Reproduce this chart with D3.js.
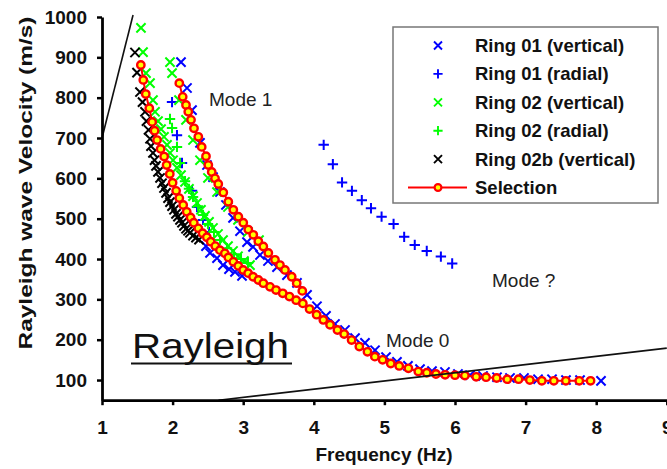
<!DOCTYPE html>
<html>
<head>
<meta charset="utf-8">
<script src="https://cdn.jsdelivr.net/npm/d3@7"></script>
<style>
  html, body { margin: 0; padding: 0; background: #fff; }
  svg { display: block; }
  text { font-family: "Liberation Sans", Arial, Helvetica, sans-serif; }
</style>
</head>
<body>
<svg id="chart" width="667" height="469"></svg>
<script>
// Dispersion picks: [frequency (Hz), phase velocity (m/s)]
const ring01Vertical = [
  [2.119,888],[2.204,824],[2.275,769],[2.388,688],[2.487,633],[2.572,603],[2.671,566],[2.756,534],
  [2.856,502],[2.955,469],[3.054,442],[3.139,430],[3.238,410],[3.351,395],[3.479,380],[3.620,360],
  [3.762,341],[3.904,311],[4.045,283],[4.173,259],[4.300,239],[4.442,224],[4.584,204],[4.725,192],
  [4.867,174],[5.023,157],[5.178,145],[5.334,135],[5.504,127],[5.674,122],[5.858,120],[6.042,115],
  [6.212,112],[6.397,110],[6.595,107],[6.779,105],[6.977,105],[7.176,102],[7.374,102],[7.572,100],
  [7.771,100],[8.068,98],
  [2.473,432],[2.530,415],[2.629,402],[2.714,385],[2.799,375],[2.884,368],[2.983,358]
];
const ring01Radial = [
  [1.992,789],[2.062,707],[2.133,638],[2.275,569],[2.346,529],[2.431,497],[2.516,467],
  [4.14,683],[4.27,635],[4.40,590],[4.54,569],[4.68,546],[4.81,526],[4.96,505],[5.13,487],
  [5.28,455],[5.43,435],[5.60,420],[5.80,406],[5.96,389]
];
const ring02Vertical = [
  [1.552,973],[1.581,913],[1.623,861],[1.680,836],[1.722,794],[1.751,765],[1.793,742],[1.836,722],
  [1.878,703],[1.921,683],[1.963,663],[2.006,645],[2.062,626],[2.119,608],[2.176,591],[2.232,574],
  [2.289,556],[2.346,539],[2.402,522],[2.459,507],[2.516,492],[2.572,477],[2.643,462],[2.714,447],
  [2.785,432],[2.856,420],[2.926,407],[3.011,395],[3.096,385],
  [1.963,888],[1.992,861],[2.091,794],[2.190,745],[2.289,695],[2.388,645],[2.501,601],[2.629,566],
  [2.785,529],[2.926,497],[3.068,467],[3.224,447]
];
const ring02Radial = [
  [1.963,747],[1.992,725],[2.062,678],[2.105,638],[2.176,593],[2.232,574],[2.289,554],[2.360,531],
  [2.431,509],[2.501,487],[2.586,467],[2.671,447],[2.771,427],[2.870,412],[2.969,400],[3.068,390]
];
const ring02bVertical = [
  [1.467,912],[1.496,862],[1.538,814],[1.574,789],[1.609,765],[1.630,742],[1.659,720],[1.680,698],
  [1.694,680],[1.722,663],[1.744,645],[1.765,631],[1.793,616],[1.822,601],[1.850,588],[1.878,576],
  [1.907,564],[1.935,551],[1.963,541],[1.992,531],[2.020,522],[2.048,512],[2.076,505],[2.105,497],
  [2.133,490],[2.161,482],[2.190,475],[2.218,470],[2.246,465],[2.289,458],[2.331,453],[2.374,448]
];
// Selected curves: fundamental mode (Mode 0) and first higher mode (Mode 1)
const selectionMode0 = [
  [1.55,881],[1.585,844],[1.62,809],[1.67,774],[1.71,740],[1.745,718],[1.78,695],[1.83,673],
  [1.88,654],[1.915,633],[1.96,611],[2.0,589],[2.05,569],[2.095,551],[2.15,534],[2.2,517],
  [2.255,503],[2.3,490],[2.365,476],[2.425,464],[2.485,454],[2.54,443],[2.605,432],[2.67,422],
  [2.74,414],[2.79,404],[2.86,393],[2.93,383],[3.0,373],[3.07,365],[3.14,356],[3.215,348],
  [3.285,340],[3.38,331],[3.465,323],[3.56,315],[3.655,307],[3.75,298],[3.845,290],[3.94,276],
  [4.04,262],[4.135,249],[4.23,237],[4.335,224],[4.43,214],[4.535,199],[4.645,183],[4.76,170],
  [4.865,158],[4.975,150],[5.09,141],[5.21,135],[5.34,129],[5.48,121],[5.6,118],[5.73,115],
  [5.86,113],[6.0,112],[6.14,111],[6.3,108],[6.44,107],[6.59,105],[6.74,102],[6.9,102],
  [7.06,100],[7.23,98],[7.4,98],[7.57,98],[7.76,98],[7.92,98]
];
const selectionMode1 = [
  [2.095,836],[2.143,802],[2.19,782],[2.222,765],[2.261,745],[2.303,724],[2.364,703],[2.412,678],
  [2.473,655],[2.506,633],[2.554,616],[2.601,600],[2.647,586],[2.718,565],[2.789,542],[2.86,522],
  [2.931,505],[3.001,490],[3.072,473],[3.143,460],[3.214,444],[3.285,431],[3.356,415],[3.45,398],
  [3.521,385],[3.592,373],[3.687,356],[3.758,340],[3.837,321]
];
// Straight guide lines
const guideSteep = [[1.0,700],[1.44,1005]];
const guideShallow = [[2.65,50],[9.0,179]];

const xTicks = [1,2,3,4,5,6,7,8,9];
const yTicks = [100,200,300,400,500,600,700,800,900,1000];
const legendLabels = ["Ring 01 (vertical)","Ring 01 (radial)","Ring 02 (vertical)","Ring 02 (radial)","Ring 02b (vertical)","Selection"];

const svg = d3.select("#chart");
const x = d3.scaleLinear().domain([1, 9]).range([102, 666.8]);
const y = d3.scaleLinear().domain([50, 1000]).range([400.2, 17]);

const crossPath = s => `M${-s},${-s}L${s},${s}M${-s},${s}L${s},${-s}`;
const plusPath = s => `M${-s},0L${s},0M0,${-s}L0,${s}`;

const series = [
  { data: ring01Vertical, color: "#0000ff", shape: crossPath },
  { data: ring01Radial, color: "#0000ff", shape: plusPath },
  { data: ring02Vertical, color: "#00ff00", shape: crossPath },
  { data: ring02Radial, color: "#00ff00", shape: plusPath },
  { data: ring02bVertical, color: "#000000", shape: crossPath }
];
const markerSize = shape => shape === crossPath ? 4.6 : 5.2;

// Scatter markers
series.forEach(s => {
  svg.append("g")
    .selectAll("path")
    .data(s.data)
    .join("path")
    .attr("transform", d => `translate(${x(d[0])},${y(d[1])})`)
    .attr("d", s.shape(markerSize(s.shape)))
    .attr("fill", "none")
    .attr("stroke", s.color)
    .attr("stroke-width", 2);
});

// Selection curves
const line = d3.line().x(d => x(d[0])).y(d => y(d[1]));
[selectionMode0, selectionMode1].forEach(curve => {
  const g = svg.append("g");
  g.append("path").attr("d", line(curve))
    .attr("fill", "none").attr("stroke", "#ff0000").attr("stroke-width", 2);
  g.selectAll("circle").data(curve).join("circle")
    .attr("cx", d => x(d[0])).attr("cy", d => y(d[1])).attr("r", 3.7)
    .attr("fill", "#ffff00").attr("stroke", "#ff0000").attr("stroke-width", 2.4);
});

// Guide lines
[guideSteep, guideShallow].forEach(gl => {
  svg.append("path").attr("d", line(gl))
    .attr("fill", "none").attr("stroke", "#111").attr("stroke-width", 1.6);
});

// Axes
const xAxis = svg.append("g").attr("transform", `translate(0,${y(50)})`)
  .call(d3.axisBottom(x).tickValues(xTicks).tickFormat(d3.format("d"))
    .tickSize(5).tickSizeOuter(0).tickPadding(15));
const yAxis = svg.append("g").attr("transform", `translate(${x(1)},0)`)
  .call(d3.axisLeft(y).tickValues(yTicks).tickFormat(d3.format("d"))
    .tickSize(5).tickSizeOuter(0).tickPadding(10));
[xAxis, yAxis].forEach(a => {
  a.select(".domain").attr("stroke", "#000").attr("stroke-width", 2.8);
  a.selectAll(".tick line").attr("stroke", "#000").attr("stroke-width", 2.5);
  a.selectAll(".tick text").attr("fill", "#111")
    .style("font-size", "19px").style("font-weight", "bold")
    .style("font-family", "'Liberation Sans', Arial, sans-serif");
});

// Axis titles
svg.append("text").attr("x", 384).attr("y", 461).attr("text-anchor", "middle")
  .style("font-size", "19px").style("font-weight", "bold").attr("fill", "#111")
  .text("Frequency (Hz)");
svg.append("text").attr("transform", "translate(32,183) rotate(-90)")
  .attr("text-anchor", "middle")
  .attr("textLength", 333).attr("lengthAdjust", "spacingAndGlyphs")
  .style("font-size", "19px").style("font-weight", "bold").attr("fill", "#111")
  .text("Rayleigh wave Velocity (m/s)");

// Mode annotations
const notes = [["Mode 1", 209, 106], ["Mode ?", 492, 287], ["Mode 0", 386, 347]];
notes.forEach(n => {
  svg.append("text").attr("x", n[1]).attr("y", n[2])
    .style("font-size", "19px").attr("fill", "#222").text(n[0]);
});

// "Rayleigh" caption with underline
svg.append("text").attr("x", 132).attr("y", 358)
  .attr("textLength", 157).attr("lengthAdjust", "spacingAndGlyphs")
  .style("font-size", "35px").attr("fill", "#111").text("Rayleigh");
svg.append("line").attr("x1", 131).attr("x2", 292).attr("y1", 363.5).attr("y2", 363.5)
  .attr("stroke", "#111").attr("stroke-width", 2);

// Legend
const legend = svg.append("g");
legend.append("rect").attr("x", 393).attr("y", 27).attr("width", 265).attr("height", 176)
  .attr("fill", "#fff").attr("stroke", "#777").attr("stroke-width", 1.5);
const rowY = i => 45.5 + i * 28.4;
legendLabels.forEach((lab, i) => {
  const cy = rowY(i);
  if (i < series.length) {
    legend.append("path").attr("transform", `translate(438,${cy})`)
      .attr("d", series[i].shape(series[i].shape === crossPath ? 4 : 4.6)).attr("fill", "none")
      .attr("stroke", series[i].color).attr("stroke-width", 1.9);
  } else {
    legend.append("line").attr("x1", 408).attr("x2", 467).attr("y1", cy).attr("y2", cy)
      .attr("stroke", "#ff0000").attr("stroke-width", 1.8);
    legend.append("circle").attr("cx", 438).attr("cy", cy).attr("r", 3.4)
      .attr("fill", "#ffff00").attr("stroke", "#ff0000").attr("stroke-width", 2.2);
  }
  legend.append("text").attr("x", 475).attr("y", cy + 6.5)
    .style("font-size", "18.5px").style("font-weight", "bold").attr("fill", "#111")
    .text(lab);
});
</script>
</body>
</html>
